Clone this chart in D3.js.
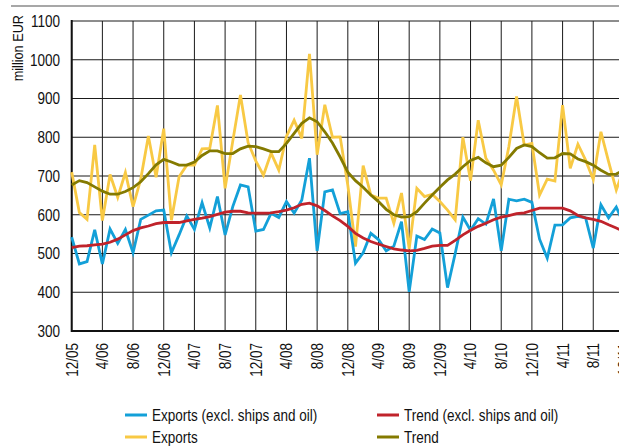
<!DOCTYPE html>
<html>
<head>
<meta charset="utf-8">
<script src="https://cdn.jsdelivr.net/npm/d3@7"></script>
<style>
	body { margin: 0; overflow: hidden; background: #fff; }
	text { font-family: 'Liberation Sans', Arial, sans-serif; fill: #111; }
</style>
</head>
<body>
<div id="chart"></div>
<script>

// datos: un valor por mes, 12/05 .. 12/11
var tick_labels = ["12/05", "4/06", "8/06", "12/06", "4/07", "8/07", "12/07", "4/08", "8/08",
	"12/08", "4/09", "8/09", "12/09", "4/10", "8/10", "12/10", "4/11", "8/11", "12/11"];

var y_ticks = [300, 400, 500, 600, 700, 800, 900, 1000, 1100];

var exports_total = [710, 606, 588, 780, 585, 704, 645, 709, 621, 692, 803, 697, 822, 586, 698, 728,
	728, 770, 771, 882, 668, 790, 909, 786, 739, 702, 759, 715, 802, 844, 797, 1015, 755, 884, 800, 801,
	676, 518, 727, 651, 643, 643, 578, 656, 512, 668, 647, 653, 634, 612, 587, 800, 688, 844, 746, 715,
	677, 776, 905, 780, 784, 651, 692, 687, 883, 720, 782, 741, 691, 814, 737, 664, 720];

var exports_excl = [542, 473, 479, 561, 473, 563, 526, 562, 502, 588, 599, 610, 612, 502, 548, 597,
	562, 631, 566, 647, 548, 621, 677, 672, 558, 562, 604, 593, 634, 604, 638, 746, 507, 659, 664, 603,
	608, 475, 502, 552, 536, 507, 519, 582, 401, 545, 536, 563, 553, 412, 500, 594, 560, 590, 576, 641,
	507, 640, 636, 640, 632, 537, 488, 573, 574, 592, 596, 592, 514, 626, 592, 620, 575];

var trend_excl = [515, 519, 520, 522, 524, 529, 537, 548, 559, 566, 571, 577, 580, 580, 580, 584,
	588, 591, 595, 601, 607, 609, 609, 605, 604, 604, 605, 608, 612, 618, 627, 630, 623, 611, 597, 585,
	570, 552, 540, 531, 524, 518, 512, 509, 507, 508, 513, 519, 521, 521, 534, 548, 560, 570, 578, 587,
	594, 598, 603, 605, 611, 617, 617, 617, 617, 610, 598, 592, 588, 583, 574, 566, 556];

var trend_total = [677, 688, 683, 672, 661, 653, 653, 660, 670, 685, 706, 729, 743, 736, 728, 728,
	736, 753, 765, 765, 758, 758, 770, 777, 776, 770, 763, 763, 784, 810, 836, 850, 840, 814, 785, 749,
	710, 688, 671, 651, 634, 614, 600, 594, 595, 608, 630, 651, 671, 690, 705, 724, 740, 748, 734, 724,
	728, 748, 771, 780, 776, 760, 746, 747, 758, 757, 744, 737, 728, 715, 704, 705, 716];

var series_names = ["Exports (excl. ships and oil)", "Exports", "Trend (excl. ships and oil)", "Trend"];


// global variables
var svg_w = 619;
var svg_h = 446;
var plot_left = 71.7;
var plot_top = 21;
var plot_bottom = 331;
var month_w = 7.67;
var narrow = "scale(0.82,1)";	// fuente condensada, a mano

var c_blue = "#13a0d8";
var c_yellow = "#f8c944";
var c_red = "#c0232b";
var c_olive = "#847a00";

var svg = d3.select("#chart")
	.append("svg")
	.attr("width", svg_w)
	.attr("height", svg_h);

// escalas
var x = d3.scaleLinear()
	.domain([0, exports_total.length - 1])
	.range([plot_left, plot_left + month_w * (exports_total.length - 1)]);

var y = d3.scaleLinear()
	.domain([300, 1100])
	.range([plot_bottom, plot_top]);

// linea gris arriba
svg.append("line")
	.attr("x1", 11).attr("x2", svg_w)
	.attr("y1", 6).attr("y2", 6)
	.attr("stroke", "#8a8a8a")
	.attr("stroke-width", 1.5);

// grid horizontal
svg.append("g")
	.selectAll("line")
	.data(y_ticks)
	.enter()
	.append("line")
	.attr("x1", plot_left)
	.attr("x2", x.range()[1] + 10)
	.attr("y1", function(d) { return y(d); })
	.attr("y2", function(d) { return y(d); })
	.attr("stroke", "#1a1a1a")
	.attr("stroke-width", 1);

// grid vertical, cada 4 meses
svg.append("g")
	.selectAll("line")
	.data(tick_labels)
	.enter()
	.append("line")
	.attr("x1", function(d, i) { return x(i * 4); })
	.attr("x2", function(d, i) { return x(i * 4); })
	.attr("y1", plot_top)
	.attr("y2", plot_bottom)
	.attr("stroke", "#1a1a1a")
	.attr("stroke-width", 1);

// ejes
svg.append("line")
	.attr("x1", plot_left).attr("x2", plot_left)
	.attr("y1", plot_top - 1).attr("y2", plot_bottom + 1)
	.attr("stroke", "#111")
	.attr("stroke-width", 2);
svg.append("line")
	.attr("x1", plot_left).attr("x2", svg_w)
	.attr("y1", plot_bottom).attr("y2", plot_bottom)
	.attr("stroke", "#111")
	.attr("stroke-width", 2);

// tick labels
svg.append("g")
	.selectAll("text")
	.data(y_ticks)
	.enter()
	.append("text")
	.attr("transform", function(d) { return "translate(60," + y(d) + ")" + narrow; })
	.attr("dy", "0.36em")
	.attr("text-anchor", "end")
	.attr("font-size", 16.5)
	.text(function(d) { return d; });

svg.append("g")
	.selectAll("text")
	.data(tick_labels)
	.enter()
	.append("text")
	.attr("transform", function(d, i) {
		return "translate(" + x(i * 4) + "," + 343 + ")rotate(-90)" + narrow;
	})
	.attr("dy", "0.36em")
	.attr("text-anchor", "end")
	.attr("font-size", 16.5)
	.text(function(d) { return d; });

svg.append("text")
	.attr("transform", "translate(17.5,15)rotate(-90)" + narrow)
	.attr("dy", "0.36em")
	.attr("text-anchor", "end")
	.attr("font-size", 15.5)
	.text("million EUR");

// lineas
var line = d3.line()
	.x(function(d, i) { return x(i); })
	.y(function(d) { return y(d); });

var series = [
	{values: exports_total, color: c_yellow},
	{values: trend_total, color: c_olive},
	{values: exports_excl, color: c_blue},
	{values: trend_excl, color: c_red}
];

svg.append("g")
	.selectAll("path")
	.data(series)
	.enter()
	.append("path")
	.attr("d", function(d) { return line(d.values); })
	.attr("fill", "none")
	.attr("stroke", function(d) { return d.color; })
	.attr("stroke-width", 2.8)
	.attr("stroke-linejoin", "miter");

// legend
var legend_items = [
	{name: series_names[0], color: c_blue, lx: 125, ly: 415},
	{name: series_names[1], color: c_yellow, lx: 125, ly: 437},
	{name: series_names[2], color: c_red, lx: 377, ly: 415},
	{name: series_names[3], color: c_olive, lx: 377, ly: 437}
];

var legend = svg.append("g")
	.selectAll("g")
	.data(legend_items)
	.enter()
	.append("g")
	.attr("transform", function(d) { return "translate(" + d.lx + "," + d.ly + ")"; });

legend.append("line")
	.attr("x1", 0).attr("x2", 22)
	.attr("y1", 0).attr("y2", 0)
	.attr("stroke", function(d) { return d.color; })
	.attr("stroke-width", 3);

legend.append("text")
	.attr("transform", "translate(27,0)" + narrow)
	.attr("dy", "0.36em")
	.attr("font-size", 16.5)
	.text(function(d) { return d.name; });

</script>
</body>
</html>
